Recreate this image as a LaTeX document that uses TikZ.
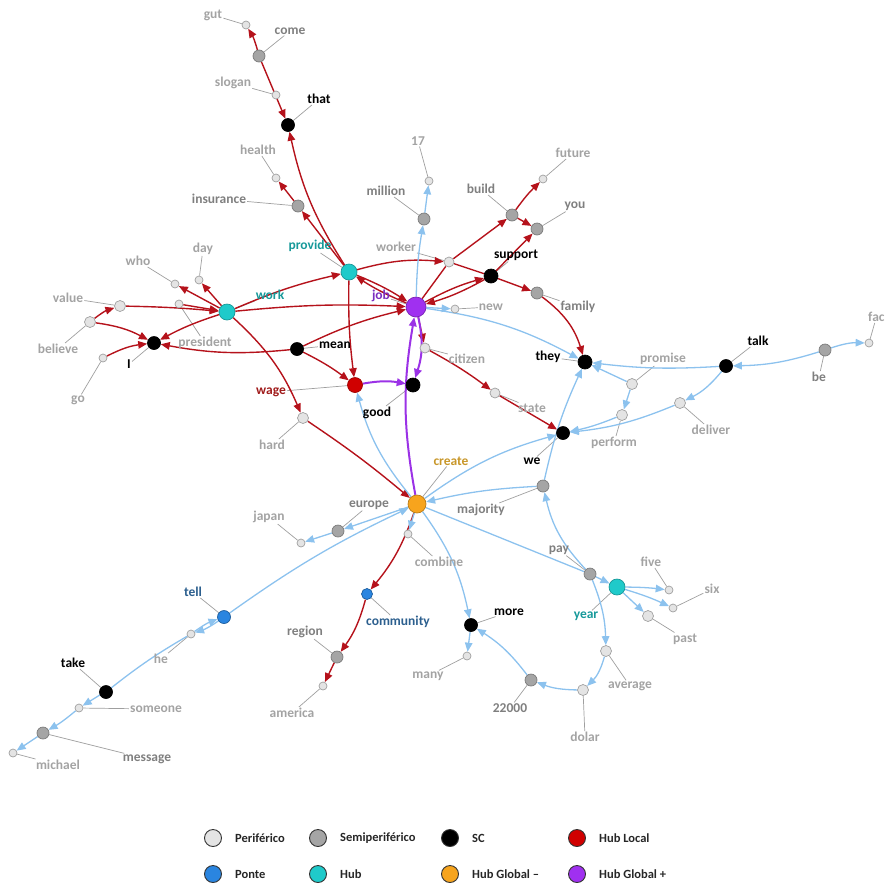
\documentclass[tikz,border=0pt]{standalone}
\usepackage{fontspec}
\setmainfont{Carlito}
\usetikzlibrary{arrows.meta,positioning}
\definecolor{edgered}{HTML}{B5121B}
\definecolor{edgeblue}{HTML}{8CC2EE}
\definecolor{edgepurple}{HTML}{9B32E6}
\definecolor{perifill}{HTML}{E4E4E4}
\definecolor{periline}{HTML}{A0A0A0}
\definecolor{semifill}{HTML}{A5A5A5}
\definecolor{semiline}{HTML}{7A7A7A}
\definecolor{hublocal}{HTML}{D00000}
\definecolor{ponte}{HTML}{2A85E0}
\definecolor{hubcol}{HTML}{1FCACA}
\definecolor{hubminus}{HTML}{F7A41D}
\definecolor{hubplus}{HTML}{A030F0}
\definecolor{txtperi}{HTML}{A3A3A3}
\definecolor{txtsemi}{HTML}{7F7F7F}
\definecolor{txthub}{HTML}{17999A}
\definecolor{txtwage}{HTML}{A01C1C}
\definecolor{txtjob}{HTML}{7B2DBF}
\definecolor{txtcreate}{HTML}{C8972A}
\definecolor{txtponte}{HTML}{2C5F8E}
\pgfdeclarelayer{edges}
\pgfsetlayers{edges,main}
\tikzset{
  vtx/.style={circle,inner sep=0pt,line width=0.7pt},
  peri/.style={vtx,draw=periline,fill=perifill,minimum size=11pt},
  perismall/.style={peri,minimum size=8pt},
  semi/.style={vtx,draw=semiline,fill=semifill,minimum size=12pt},
  sc/.style={vtx,draw=black,fill=black,minimum size=13pt},
  hubv/.style={vtx,draw=hubcol!75!black,fill=hubcol,minimum size=16pt},
  localv/.style={vtx,draw=hublocal!75!black,fill=hublocal,minimum size=15pt},
  pontev/.style={vtx,draw=ponte!70!black,fill=ponte,minimum size=13pt},
  minusv/.style={vtx,draw=hubminus!75!black,fill=hubminus,minimum size=18pt},
  plusv/.style={vtx,draw=hubplus!75!black,fill=hubplus,minimum size=20pt},
  lab/.style={font=\bfseries\fontsize{13.5}{15}\selectfont,inner sep=1pt},
  lperi/.style={lab,text=txtperi},
  lsemi/.style={lab,text=txtsemi},
  lsc/.style={lab,text=black},
  lhub/.style={lab,text=txthub},
  tick/.style={draw=gray!75,line width=0.7pt},
  >={Triangle[length=9pt,width=7.5pt]},
  redlink/.style={draw=edgered,line width=1.4pt},
  bluelink/.style={draw=edgeblue,line width=1.3pt},
  purplelink/.style={draw=edgepurple,line width=2pt},
  legdot/.style={circle,draw=black!80,line width=0.9pt,minimum size=17pt,inner sep=0pt},
  legtext/.style={font=\bfseries\fontsize{12.5}{14}\selectfont,text=black!85,inner sep=1pt},
}
\begin{document}
\begin{tikzpicture}[x=1pt,y=-1pt]
\useasboundingbox (0,0) rectangle (885,884);
% vertices
\node[perismall] (gut) at (246,25) {};
\node[semi] (come) at (259,56) {};
\node[perismall] (slogan) at (276,95) {};
\node[sc] (that) at (288,125) {};
\node[perismall] (health) at (276,178) {};
\node[semi] (insurance) at (298,206) {};
\node[hubv] (provide) at (349,272) {};
\node[perismall] (n17) at (429,181) {};
\node[semi] (million) at (424,219) {};
\node[peri,minimum size=10pt] (worker) at (449,262) {};
\node[semi] (build) at (512,215) {};
\node[perismall] (future) at (543,179) {};
\node[semi] (you) at (537,229) {};
\node[sc,minimum size=14pt] (support) at (491,276) {};
\node[semi] (family) at (537,293) {};
\node[plusv] (job) at (416,307) {};
\node[perismall] (new) at (455,309) {};
\node[perismall] (who) at (175,284) {};
\node[perismall] (day) at (199,280) {};
\node[peri] (value) at (120,306) {};
\node[perismall] (president) at (179,304) {};
\node[hubv] (work) at (227,312) {};
\node[peri] (believe) at (90,322) {};
\node[sc] (I) at (154,343) {};
\node[perismall] (go) at (103,358) {};
\node[sc] (mean) at (297,349) {};
\node[perismall,minimum size=10pt] (citizen) at (425,348) {};
\node[localv] (wage) at (355,385) {};
\node[sc,minimum size=14pt] (good) at (413,385) {};
\node[peri] (hard) at (303,418) {};
\node[perismall,minimum size=10pt] (state) at (495,393) {};
\node[sc,minimum size=14pt] (they) at (585,362) {};
\node[peri] (promise) at (632,384) {};
\node[sc] (talk) at (726,366) {};
\node[semi] (be) at (825,350) {};
\node[perismall] (fac) at (869,343) {};
\node[peri] (perform) at (622,415) {};
\node[peri] (deliver) at (680,403) {};
\node[sc] (we) at (563,433) {};
\node[minusv] (create) at (417,504) {};
\node[semi] (majority) at (543,486) {};
\node[semi] (europe) at (338,531) {};
\node[perismall] (japan) at (301,543) {};
\node[perismall] (combine) at (408,534) {};
\node[semi] (pay) at (590,574) {};
\node[hubv] (year) at (617,587) {};
\node[perismall] (five) at (669,590) {};
\node[perismall] (six) at (673,608) {};
\node[peri] (past) at (648,616) {};
\node[pontev,minimum size=11pt] (community) at (367,594) {};
\node[pontev] (tell) at (224,617) {};
\node[perismall] (he) at (191,634) {};
\node[sc] (more) at (471,625) {};
\node[semi] (region) at (337,657) {};
\node[perismall] (many) at (467,656) {};
\node[peri] (average) at (606,651) {};
\node[perismall] (america) at (323,686) {};
\node[semi] (n22000) at (531,680) {};
\node[peri] (dolar) at (583,690) {};
\node[sc] (take) at (106,692) {};
\node[perismall] (someone) at (79,708) {};
\node[semi] (message) at (43,733) {};
\node[perismall] (michael) at (13,753) {};
% labels
\node[lperi] (l-gut) at (213,15) {gut};
\node[lsemi] (l-come) at (290,31) {come};
\node[lperi] (l-slogan) at (233,83) {slogan};
\node[lsc] (l-that) at (319,99) {that};
\node[lperi] (l-health) at (258,150) {health};
\node[lsemi] (l-insurance) at (219,199) {insurance};
\node[lhub] (l-provide) at (310,246) {provide};
\node[lperi] (l-n17) at (418,141) {17};
\node[lsemi] (l-million) at (386,191) {million};
\node[lperi] (l-worker) at (396,247) {worker};
\node[lsemi] (l-build) at (481,189) {build};
\node[lperi] (l-future) at (573,153) {future};
\node[lsemi] (l-you) at (575,206) {you};
\node[lsc] (l-support) at (516,255) {support};
\node[lsemi] (l-family) at (578,307) {family};
\node[lab,text=txtjob] (l-job) at (381,296) {job};
\node[lperi] (l-new) at (491,307) {new};
\node[lperi] (l-who) at (138,261) {who};
\node[lperi] (l-day) at (203,249) {day};
\node[lperi] (l-value) at (68,298) {value};
\node[lperi] (l-president) at (205,343) {president};
\node[lhub] (l-work) at (270,295) {work};
\node[lperi] (l-believe) at (58,349) {believe};
\node[lsc] (l-I) at (129,364) {I};
\node[lperi] (l-go) at (78,400) {go};
\node[lsc] (l-mean) at (335,345) {mean};
\node[lperi] (l-citizen) at (467,359) {citizen};
\node[lab,text=txtwage] (l-wage) at (271,392) {wage};
\node[lsc] (l-good) at (377,413) {good};
\node[lperi] (l-hard) at (272,445) {hard};
\node[lperi] (l-state) at (532,408) {state};
\node[lsc] (l-they) at (548,357) {they};
\node[lperi] (l-promise) at (663,359) {promise};
\node[lsc] (l-talk) at (758,341) {talk};
\node[lsemi] (l-be) at (819,377) {be};
\node[lperi,anchor=west] (l-fac) at (867,317) {fac};
\node[lperi] (l-perform) at (614,443) {perform};
\node[lperi] (l-deliver) at (711,430) {deliver};
\node[lsc] (l-we) at (532,461) {we};
\node[lab,text=txtcreate] (l-create) at (451,461) {create};
\node[lsemi] (l-majority) at (481,510) {majority};
\node[lsemi] (l-europe) at (369,505) {europe};
\node[lperi] (l-japan) at (269,517) {japan};
\node[lperi] (l-combine) at (439,562) {combine};
\node[lsemi] (l-pay) at (559,550) {pay};
\node[lhub] (l-year) at (586,616) {year};
\node[lperi] (l-five) at (651,562) {five};
\node[lperi] (l-six) at (712,589) {six};
\node[lperi] (l-past) at (685,639) {past};
\node[lab,text=txtponte] (l-community) at (398,622) {community};
\node[lab,text=txtponte] (l-tell) at (193,592) {tell};
\node[lperi] (l-he) at (161,659) {he};
\node[lsc] (l-more) at (509,612) {more};
\node[lsemi] (l-region) at (305,632) {region};
\node[lperi] (l-many) at (428,676) {many};
\node[lperi] (l-average) at (630,686) {average};
\node[lperi] (l-america) at (292,713) {america};
\node[lsemi] (l-n22000) at (510,708) {22000};
\node[lperi] (l-dolar) at (585,737) {dolar};
\node[lsc] (l-take) at (73,663) {take};
\node[lperi] (l-someone) at (156,709) {someone};
\node[lsemi] (l-message) at (147,759) {message};
\node[lperi] (l-michael) at (58,765) {michael};
\begin{pgfonlayer}{edges}
% label ticks
\foreach \n in {gut,come,slogan,that,health,insurance,provide,n17,million,worker,build,future,you,support,family,job,new,who,day,value,president,work,believe,I,go,mean,citizen,wage,good,hard,state,they,promise,talk,be,fac,perform,deliver,we,create,majority,europe,japan,combine,pay,year,five,six,past,community,tell,he,more,region,many,average,america,n22000,dolar,take,someone,message,michael}
  \draw[tick] (l-\n) -- (\n);
% red links
\draw[redlink,->] (come) to[bend right=8] (gut);
\draw[redlink,->] (come) -- (that);
\draw[redlink,->] (provide) to[bend left=10] (that);
\draw[redlink,->] (provide) -- (insurance);
\draw[redlink,->] (insurance) -- (health);
\draw[redlink,->] (work) -- (who);
\draw[redlink,->] (work) -- (day);
\draw[redlink,->] (value) to[bend left=2] (work);
\draw[redlink,->] (president) -- (work);
\draw[redlink,->] (believe) to[bend left=10] (value);
\draw[redlink,->] (believe) to[bend left=10] (I);
\draw[redlink,->] (go) to[bend left=10] (I);
\draw[redlink,->] (work) to[bend right=5] (I);
\draw[redlink,->] (mean) to[bend left=8] (I);
\draw[redlink,->] (work) to[bend left=5] (provide);
\draw[redlink,->] (work) to[bend left=4] (job);
\draw[redlink,->] (work) to[bend left=12] (hard);
\draw[redlink,->] (mean) to[bend left=6] (job);
\draw[redlink,->] (mean) to[bend left=5] (wage);
\draw[redlink,->] (provide) to[bend right=4] (wage);
\draw[redlink,->] (provide) to[bend left=10] (worker);
\draw[redlink,->] (provide) to[bend left=5] (job);
\draw[redlink,->] (job) to[bend left=5] (provide);
\draw[redlink,->] (job) -- (citizen);
\draw[redlink,->] (citizen) to[bend left=4] (state);
\draw[redlink,->] (state) -- (we);
\draw[redlink] (job) -- (worker);
\draw[redlink,->] (worker) -- (build);
\draw[redlink] (worker) -- (support);
\draw[redlink,->] (job) to[bend left=6] (support);
\draw[redlink,->] (support) to[bend left=6] (job);
\draw[redlink,->] (support) -- (you);
\draw[redlink,->] (build) -- (you);
\draw[redlink,->] (build) to[bend left=5] (future);
\draw[redlink,->] (support) -- (family);
\draw[redlink,->] (family) to[bend left=18] (they);
\draw[redlink,->] (hard) to[bend left=3] (create);
\draw[redlink,->] (create) to[bend left=10] (community);
\draw[redlink,->] (community) to[bend left=10] (region);
\draw[redlink,->] (region) -- (america);
% purple links
\draw[purplelink,->] (wage) to[bend left=10] (good);
\draw[purplelink,->] (job) to[bend left=15] (good);
\draw[purplelink,->] (create) to[bend left=10] (job);
% blue links
\draw[bluelink,->] (job) to[bend left=4] (million);
\draw[bluelink,->] (million) -- (n17);
\draw[bluelink,->] (job) -- (new);
\draw[bluelink,->] (job) to[bend left=10] (they);
\draw[bluelink,->] (talk) to[bend left=5] (they);
\draw[bluelink,->] (promise) -- (they);
\draw[bluelink,->] (promise) -- (perform);
\draw[bluelink,->] (be) to[bend left=8] (talk);
\draw[bluelink,->] (be) to[bend left=10] (fac);
\draw[bluelink,->] (talk) to[bend left=12] (deliver);
\draw[bluelink,->] (deliver) to[bend left=8] (we);
\draw[bluelink,->] (perform) to[bend left=5] (we);
\draw[bluelink,->] (majority) to[bend left=6] (they);
\draw[bluelink,->] (pay) to[bend left=15] (majority);
\draw[bluelink,->] (create) to[bend left=10] (we);
\draw[bluelink,->] (majority) to[bend right=5] (create);
\draw[bluelink] (create) -- (pay);
\draw[bluelink,->] (pay) -- (year);
\draw[bluelink,->] (pay) to[bend left=10] (average);
\draw[bluelink,->] (year) to[bend left=3] (five);
\draw[bluelink,->] (year) to[bend left=4] (six);
\draw[bluelink,->] (year) -- (past);
\draw[bluelink,->] (average) to[bend left=15] (dolar);
\draw[bluelink,->] (dolar) to[bend left=10] (n22000);
\draw[bluelink,->] (n22000) to[bend right=10] (more);
\draw[bluelink,->] (create) to[bend left=12] (more);
\draw[bluelink,->] (more) -- (many);
\draw[bluelink,->] (create) to[bend left=12] (wage);
\draw[bluelink,->] (create) -- (europe);
\draw[bluelink,->] (europe) -- (japan);
\draw[bluelink,->] (create) -- (combine);
\draw[bluelink,->] (tell) to[bend left=5] (create);
\draw[bluelink,->] (tell) to[bend left=8] (he);
\draw[bluelink,->] (he) to[bend left=8] (tell);
\draw[bluelink,->] (he) to[bend right=4] (take) -- (someone);
\draw[bluelink,->] (someone) to[bend left=5] (message);
\draw[bluelink,->] (message) -- (michael);
\end{pgfonlayer}
% legend
\foreach \fillc/\txt/\lx/\ly [count=\i] in {perifill/Periférico/213/838, semifill/Semiperiférico/318/838, black/SC/450/838, hublocal/Hub Local/577/838, ponte/Ponte/213/874, hubcol/Hub/318/874, hubminus/Hub Global –/450/874, hubplus/Hub Global +/577/874} {
  \node[legdot,fill=\fillc] (leg\i) at (\lx,\ly) {};
  \node[legtext,right=12pt of leg\i] {\txt};
}
\end{tikzpicture}
\end{document}
